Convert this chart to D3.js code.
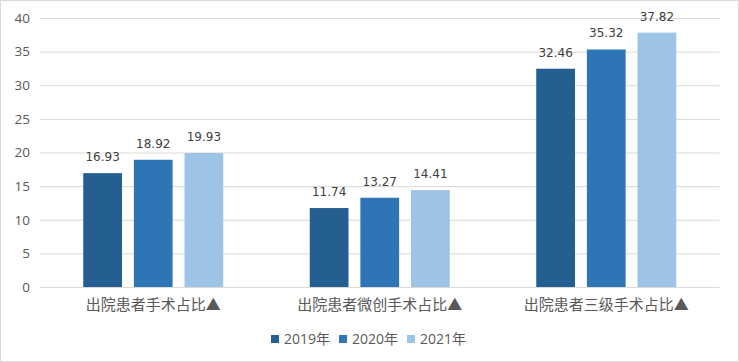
<!DOCTYPE html>
<html>
<head>
<meta charset="utf-8">
<script src="https://cdn.jsdelivr.net/npm/d3@7"></script>
<style>
  body { margin: 0; background: #fff; }
  svg { display: block; }
</style>
</head>
<body>
<svg></svg>
<script>
// chart data
let categories = ['出院患者手术占比▲', '出院患者微创手术占比▲', '出院患者三级手术占比▲']
let years = ['2019年', '2020年', '2021年']
let values2019 = [16.93, 11.74, 32.46]
let values2020 = [18.92, 13.27, 35.32]
let values2021 = [19.93, 14.41, 37.82]
let yTicks = [0, 5, 10, 15, 20, 25, 30, 35, 40]
let colors = ['#255e91', '#2e75b6', '#9dc3e6']

let width = 739
let height = 362
let plotLeft = 40
let plotRight = 719.5
let plotTop = 18
let plotBottom = 287

let series = [values2019, values2020, values2021]

let svg = d3.select('svg')
    .attr('width', width)
    .attr('height', height)

// outer border
svg.append('rect')
    .attr('x', 0.5).attr('y', 0.5)
    .attr('width', width - 1).attr('height', height - 1)
    .attr('fill', '#fff')
    .attr('stroke', '#d9d9d9')

let yScale = d3.scaleLinear().domain([0, 40]).range([plotBottom, plotTop])
let xScale = d3.scaleBand().domain(categories).range([plotLeft, plotRight])
let innerScale = d3.scaleBand().domain(years)
    .range([0, 140]).paddingInner(0.235)

// gridlines + y labels
let yAxis = d3.axisLeft(yScale).tickValues(yTicks)
    .tickSize(-(plotRight - plotLeft)).tickPadding(10)
let gy = svg.append('g')
    .attr('transform', 'translate(' + plotLeft + ',0)')
    .call(yAxis)
gy.select('.domain').remove()
gy.selectAll('.tick line').attr('stroke', '#d9d9d9')
gy.selectAll('.tick text')
    .attr('fill', '#595959')
    .style('font-family', '"Open Sans", "DejaVu Sans", sans-serif')
    .style('font-size', '13.5px')

// bars
let groups = svg.selectAll('.grp')
    .data(categories)
    .enter()
    .append('g')
    .attr('class', 'grp')
    .attr('transform', (d) => 'translate(' + (xScale(d) + (xScale.bandwidth() - 140) / 2) + ',0)')

years.forEach((yr, si) => {
    groups.append('rect')
        .attr('x', innerScale(yr))
        .attr('width', innerScale.bandwidth())
        .attr('y', (d, i) => yScale(series[si][i]))
        .attr('height', (d, i) => yScale(0) - yScale(series[si][i]))
        .attr('fill', colors[si])

    groups.append('text')
        .attr('x', innerScale(yr) + innerScale.bandwidth() / 2)
        .attr('y', (d, i) => yScale(series[si][i]) - 12)
        .attr('text-anchor', 'middle')
        .attr('fill', '#404040')
        .style('font-family', '"DejaVu Sans", sans-serif')
        .style('font-size', '12px')
        .text((d, i) => series[si][i].toFixed(2))
})

// x axis line
svg.append('line')
    .attr('x1', plotLeft).attr('x2', plotRight)
    .attr('y1', plotBottom + 0.5).attr('y2', plotBottom + 0.5)
    .attr('stroke', '#d9d9d9')

// category labels
svg.selectAll('.cat')
    .data(categories)
    .enter()
    .append('text')
    .attr('x', (d) => xScale(d) + xScale.bandwidth() / 2)
    .attr('y', 310)
    .attr('text-anchor', 'middle')
    .attr('fill', '#595959')
    .style('font-family', '"Noto Sans CJK SC", sans-serif')
    .style('font-size', '15px')
    .text((d) => d)

// legend
let legendX = [271, 339, 407]
let legend = svg.selectAll('.leg')
    .data(years)
    .enter()
    .append('g')
    .attr('transform', (d, i) => 'translate(' + legendX[i] + ',335)')
legend.append('rect')
    .attr('width', 8).attr('height', 8)
    .attr('fill', (d, i) => colors[i])
legend.append('text')
    .attr('x', 13).attr('y', 9)
    .attr('fill', '#595959')
    .style('font-family', '"Open Sans", "Noto Sans CJK SC", sans-serif')
    .style('font-size', '14px')
    .text((d) => d)
</script>
</body>
</html>
